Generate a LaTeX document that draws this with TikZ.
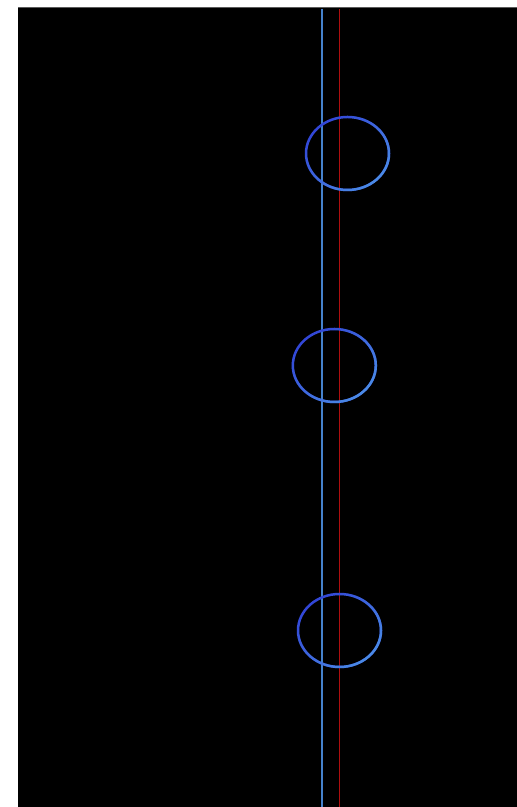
\documentclass[tikz,border=0pt]{standalone}
\usetikzlibrary{shapes.geometric,fadings}
\definecolor{bgblack}{RGB}{0,0,0}
\definecolor{edgegray}{RGB}{90,90,90}
\definecolor{lineblue}{RGB}{70,130,205}
\definecolor{linered}{RGB}{175,15,15}
\definecolor{ringdark}{RGB}{50,70,215}
\definecolor{ringlight}{RGB}{75,140,230}
\tikzfading[name=ringfade, top color=transparent!100, bottom color=transparent!0]
\tikzset{
  ring/.style={draw=ringdark, line width=1.25pt},
  ringhi/.style={draw=ringlight, line width=1.25pt, path fading=ringfade, fading angle=45},
}
\begin{document}
\begin{tikzpicture}[x=0.5pt,y=0.5pt]
\useasboundingbox (0,0) rectangle (517,807);
\fill[white] (0,0) rectangle (517,807);
\fill[bgblack] (18,0) rectangle (517,800);
\draw[edgegray, line width=0.4pt] (18,800) -- (517,800);
\draw[linered, line width=0.7pt] (339.3,798) -- (339.3,0);
\draw[lineblue, line width=1.2pt] (322,798) -- (322,0);
\foreach \cx/\cy in {347.5/653.5, 334.3/441.5, 339.5/176.5}{
  \draw[ring] (\cx,\cy) ellipse [x radius=41.5, y radius=36.5];
  \draw[ringhi] (\cx,\cy) ellipse [x radius=41.5, y radius=36.5];
}
\end{tikzpicture}
\end{document}
